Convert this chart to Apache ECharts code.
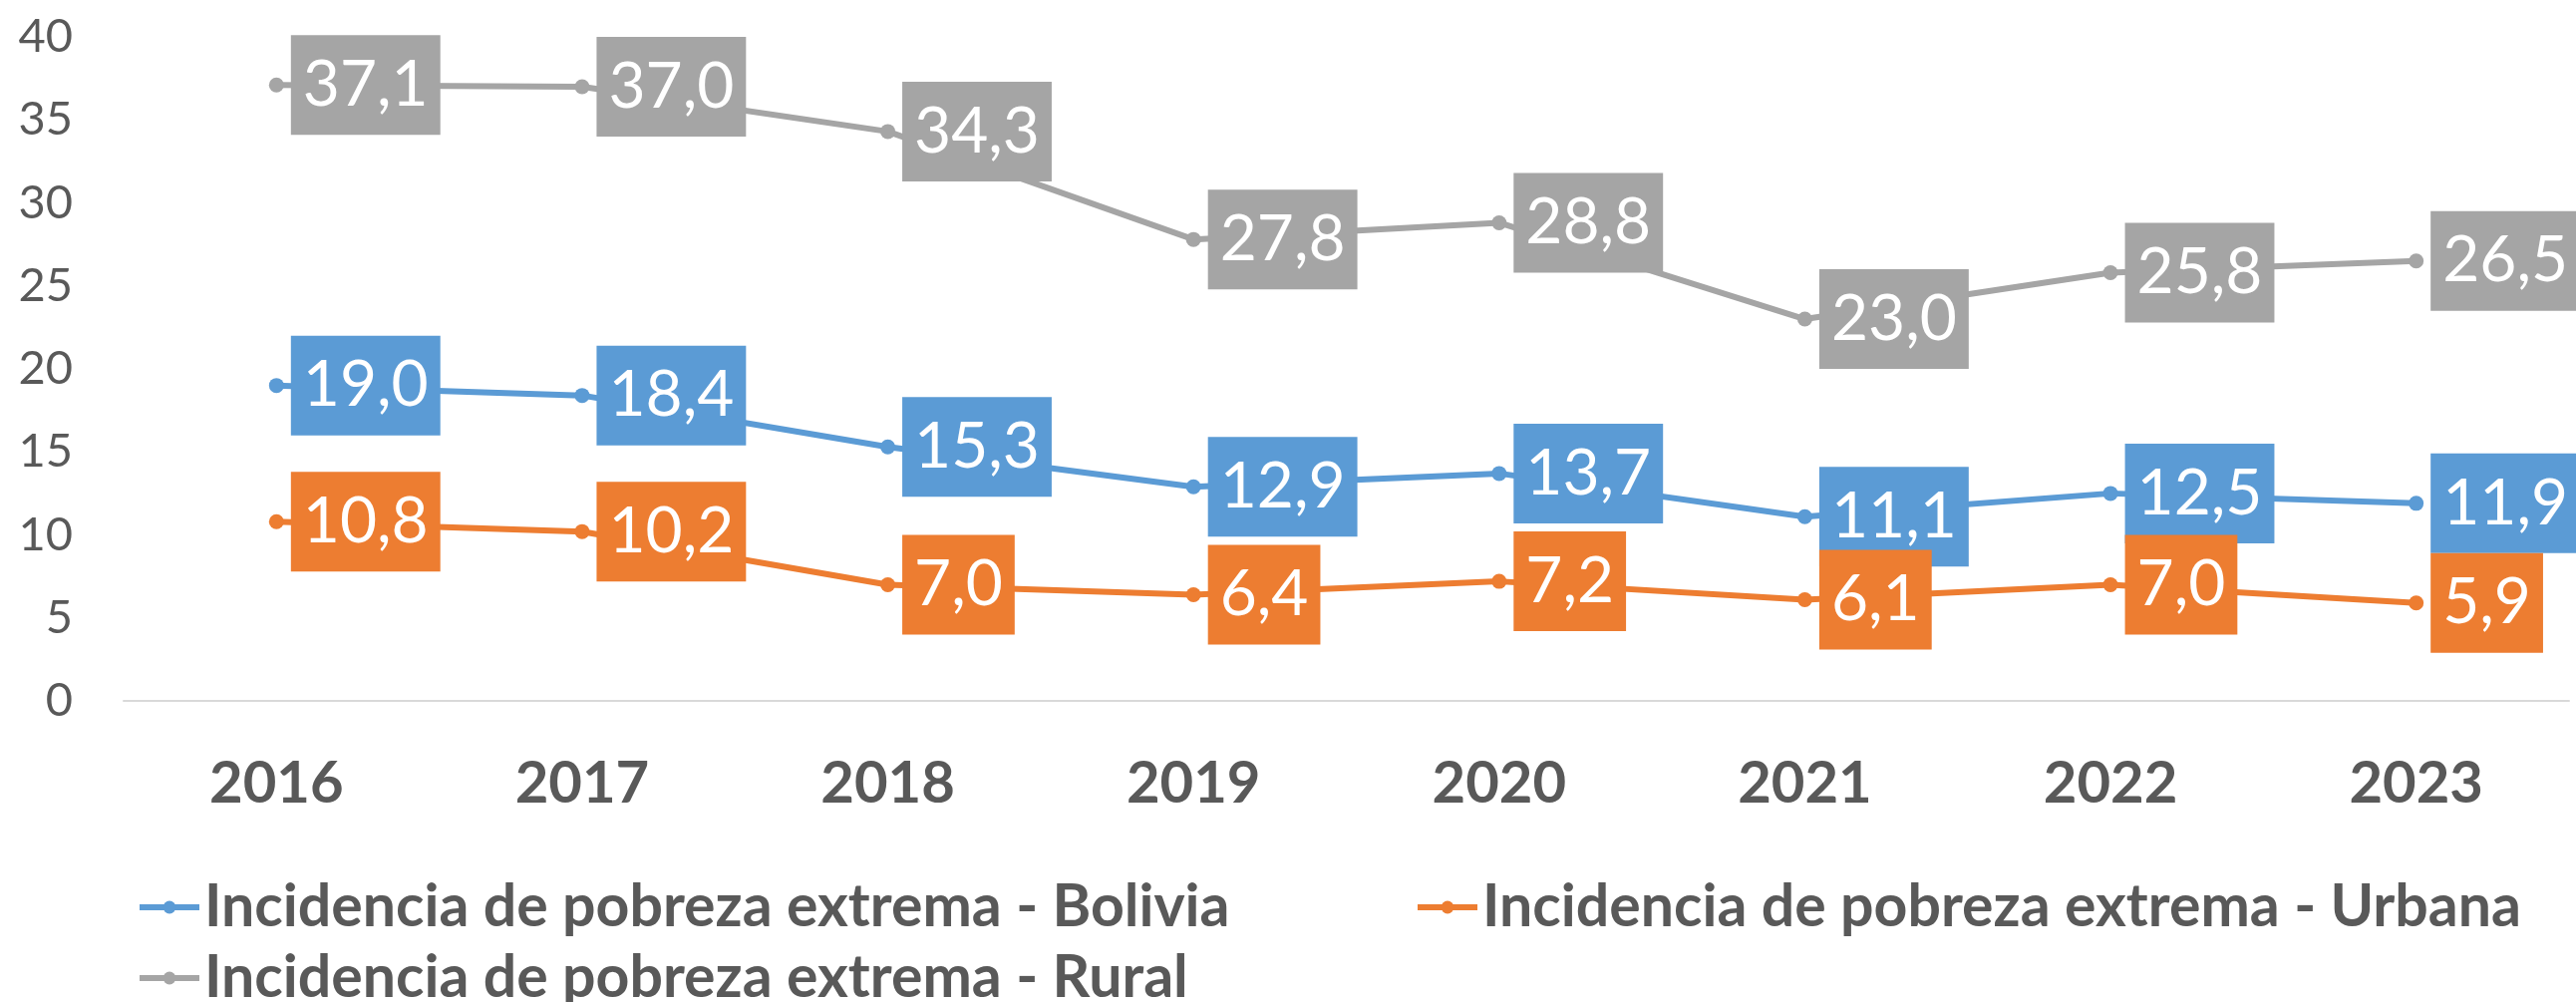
<!DOCTYPE html>
<html>
<head>
<meta charset="utf-8">
<script src="https://cdn.jsdelivr.net/npm/echarts@6/dist/echarts.min.js"></script>
<style>
  html, body { margin: 0; padding: 0; background: #fff; }
  #chart { width: 2584px; height: 1005px; }
</style>
</head>
<body>
<div id="chart"></div>
<script>
// years on the category axis
const years = ['2016', '2017', '2018', '2019', '2020', '2021', '2022', '2023'];
// series values (%)
const bolivia = [19.0, 18.4, 15.3, 12.9, 13.7, 11.1, 12.5, 11.9];
const urbana = [10.8, 10.2, 7.0, 6.4, 7.2, 6.1, 7.0, 5.9];
const rural = [37.1, 37.0, 34.3, 27.8, 28.8, 23.0, 25.8, 26.5];
const names = [
  'Incidencia de pobreza extrema - Bolivia',
  'Incidencia de pobreza extrema - Urbana',
  'Incidencia de pobreza extrema - Rural'
];
const colors = ['#5b9bd5', '#ed7d31', '#a5a5a5'];

const txt = '#595959';
const fam = 'Lato, "Open Sans", sans-serif';

const mkSeries = (name, data, color) => ({
  name,
  type: 'line',
  data,
  symbol: 'circle',
  symbolSize: 15,
  itemStyle: { color },
  lineStyle: { color, width: 6 },
  label: {
    show: true,
    position: 'right',
    distance: 7,
    formatter: p => p.value.toFixed(1).replace('.', ','),
    color: '#fff',
    fontFamily: fam,
    fontSize: 64,
    lineHeight: 68,
    padding: [16, 12],
    backgroundColor: color
  }
});

const legendBase = {
  orient: 'horizontal',
  itemWidth: 60,
  itemHeight: 16,
  itemGap: 40,
  lineStyle: { width: 6 },
  textStyle: { color: txt, fontFamily: fam, fontWeight: 'bold', fontSize: 59, lineHeight: 60 }
};

let myChart = echarts.init(document.querySelector('#chart'));
myChart.setOption({
  animation: false,
  backgroundColor: '#fff',
  grid: { left: 124, right: 7, top: 37, bottom: 302, containLabel: false },
  xAxis: {
    type: 'category',
    data: years,
    boundaryGap: true,
    axisLine: { lineStyle: { color: '#d9d9d9', width: 2 } },
    axisTick: { show: false },
    axisLabel: { color: txt, fontFamily: fam, fontWeight: 'bold', fontSize: 58, lineHeight: 58, margin: 54 }
  },
  yAxis: {
    type: 'value',
    min: 0,
    max: 40,
    interval: 5,
    axisLine: { show: false },
    axisTick: { show: false },
    splitLine: { show: false },
    axisLabel: { color: txt, fontFamily: fam, fontSize: 47, margin: 51 }
  },
  legend: [
    Object.assign({}, legendBase, { data: [names[0]], left: 132, top: 875 }),
    Object.assign({}, legendBase, { data: [names[1]], left: 1414, top: 875 }),
    Object.assign({}, legendBase, { data: [names[2]], left: 132, top: 946 })
  ],
  series: [
    mkSeries(names[0], bolivia, colors[0]),
    mkSeries(names[1], urbana, colors[1]),
    mkSeries(names[2], rural, colors[2])
  ]
});
</script>
</body>
</html>
